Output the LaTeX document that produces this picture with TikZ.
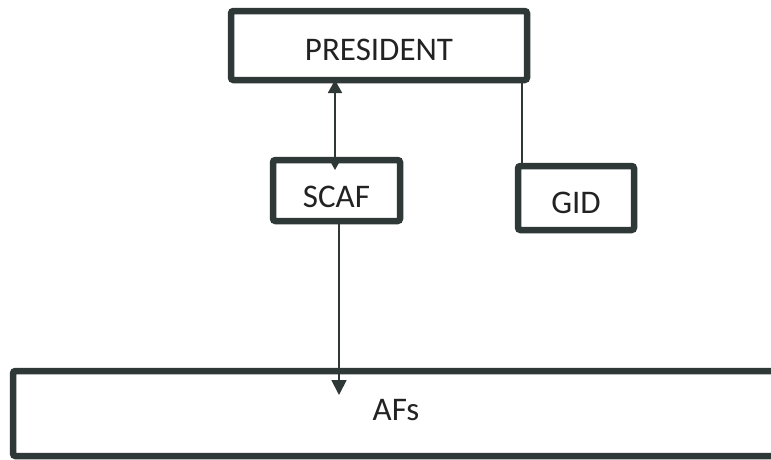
\documentclass[tikz,border=0pt]{standalone}
\usepackage{fontspec}
\setmainfont{Carlito}
\usetikzlibrary{arrows.meta}
\definecolor{ink}{HTML}{2E3836}
\definecolor{txt}{HTML}{222222}
\begin{document}
\begin{tikzpicture}[x=1pt,y=-1pt,
  box/.style={draw=ink, line width=6.5pt, rounded corners=2.5pt, fill=white,
    inner sep=0pt, outer sep=0pt, anchor=north west, text=txt,
    font=\fontsize{33}{39}\selectfont, text depth=0pt},
  lbl/.style={font=\fontsize{33}{39}\selectfont, text=txt, inner sep=0pt},
  conn/.style={draw=ink, line width=1.8pt},
  tipend/.style={-{Triangle[length=15pt,width=15pt]}},
  tipboth/.style={{Triangle[length=13pt,width=14pt]}-{Triangle[length=13pt,width=14pt]}}]
\useasboundingbox (0,0) rectangle (771,459);
\fill[white] (0,0) rectangle (771,459);
\clip (0,0) rectangle (771,459);
\node[box, minimum width=296pt, minimum height=69pt, text height=30pt] (pres) at (231,11) {PRESIDENT};
\node[box, minimum width=127pt, minimum height=61pt, text height=34pt] (scaf) at (273,160) {SCAF};
\node[box, minimum width=116pt, minimum height=64pt, text height=31pt] (gid) at (518,166) {GID\hspace{12pt}};
\node[box, minimum width=800pt, minimum height=85pt] (afs) at (13,371) {};
\node[lbl] (afslbl) at (396,410) {AFs};
\coordinate (s1) at ([xshift=-1.5pt]scaf.north);
\draw[conn, tipboth, shorten <=-10pt] (s1) -- (s1 |- pres.south);
\coordinate (s2) at ([xshift=2.5pt]scaf.south);
\draw[conn, tipend, shorten >=-24pt] (s2) -- (s2 |- afs.north);
\coordinate (g1) at ([xshift=4pt]gid.north west);
\draw[conn] (g1) -- (g1 |- pres.south);
\end{tikzpicture}
\end{document}
